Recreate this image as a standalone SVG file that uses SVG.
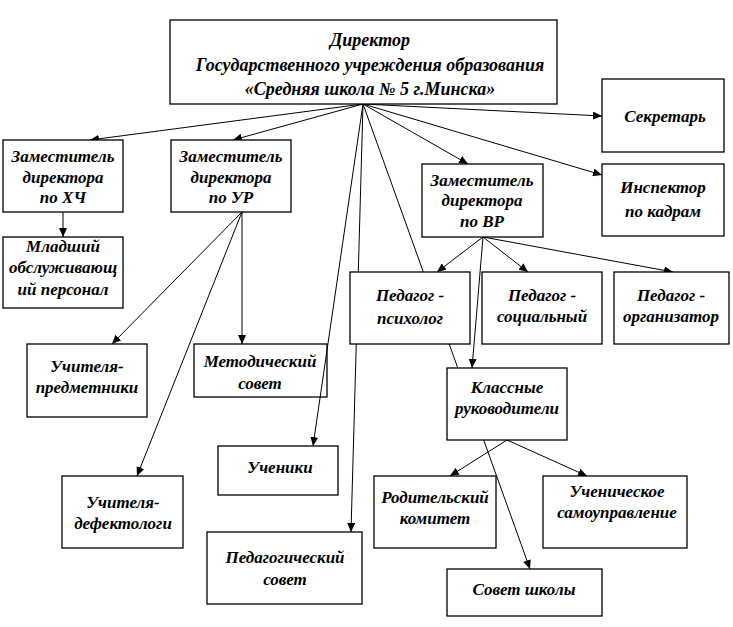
<svg xmlns="http://www.w3.org/2000/svg" width="733" height="627" viewBox="0 0 733 627">
<defs>
<marker id="ah" markerWidth="10" markerHeight="8" refX="9" refY="4" orient="auto" markerUnits="userSpaceOnUse">
<path d="M0,0 L9,4 L0,8 Z" fill="#000"/>
</marker>
<style>
.box{fill:#fff;stroke:#000;stroke-width:1.3}
.open{fill:none;stroke:#000;stroke-width:1.3}
.ln{stroke:#000;stroke-width:1;fill:none;marker-end:url(#ah)}
text{font-family:"Liberation Serif","Times New Roman",serif;font-style:italic;font-weight:bold;font-size:17px;text-anchor:middle;fill:#000}
.big{font-size:18px}
</style>
</defs>
<rect width="733" height="627" fill="#fff"/>
<g id="connectors">
<line class="ln" x1="363" y1="104" x2="90" y2="140"/>
<line class="ln" x1="363" y1="104" x2="233" y2="140"/>
<line class="ln" x1="363" y1="104" x2="602" y2="116"/>
<line class="ln" x1="363" y1="104" x2="468" y2="164"/>
<line class="ln" x1="363" y1="104" x2="602" y2="175"/>
<line class="ln" x1="363" y1="104" x2="313" y2="446"/>
<line class="ln" x1="363" y1="104" x2="351" y2="532"/>
<line class="ln" x1="363" y1="104" x2="530" y2="569"/>
<line class="ln" x1="63" y1="212" x2="63" y2="237"/>
<line class="ln" x1="242" y1="212" x2="112" y2="344"/>
<line class="ln" x1="242" y1="212" x2="242" y2="344"/>
<line class="ln" x1="242" y1="212" x2="137" y2="476"/>
<line class="ln" x1="483" y1="237" x2="437" y2="272"/>
<line class="ln" x1="483" y1="237" x2="528" y2="272"/>
<line class="ln" x1="483" y1="237" x2="673" y2="272"/>
<line class="ln" x1="483" y1="237" x2="472" y2="368"/>
<line class="ln" x1="507" y1="440" x2="450" y2="476"/>
<line class="ln" x1="507" y1="440" x2="587" y2="476"/>
</g>
<g id="director">
<rect class="box" x="170" y="20" width="387" height="84"/>
<text class="big" x="370" y="46">Директор</text>
<text class="big" x="370" y="71">Государственного учреждения образования</text>
<text class="big" x="370" y="95">«Средняя школа № 5 г.Минска»</text>
</g>
<g id="secretary">
<rect class="box" x="602" y="79" width="122" height="73"/>
<text x="665" y="122">Секретарь</text>
</g>
<g id="inspector">
<rect class="box" x="602" y="164" width="122" height="72"/>
<text x="663" y="193">Инспектор</text>
<text x="663" y="217">по кадрам</text>
</g>
<g id="deputy-hch">
<rect class="box" x="3" y="140" width="120" height="72"/>
<text x="63" y="162">Заместитель</text>
<text x="63" y="183">директора</text>
<text x="63" y="203">по ХЧ</text>
</g>
<g id="junior-staff">
<rect class="box" x="3" y="237" width="120" height="71"/>
<text x="63" y="252">Младший</text>
<text x="63" y="273">обслуживающ</text>
<text x="63" y="295">ий персонал</text>
</g>
<g id="deputy-ur">
<rect class="box" x="171" y="140" width="120" height="72"/>
<text x="231" y="162">Заместитель</text>
<text x="231" y="183">директора</text>
<text x="231" y="203">по УР</text>
</g>
<g id="deputy-vr">
<rect class="box" x="422" y="164" width="121" height="73"/>
<text x="482" y="186">Заместитель</text>
<text x="482" y="206">директора</text>
<text x="482" y="227">по ВР</text>
</g>
<g id="psychologist">
<rect class="box" x="350" y="272" width="120" height="72"/>
<text x="410" y="301">Педагог -</text>
<text x="410" y="324">психолог</text>
</g>
<g id="social">
<rect class="box" x="482" y="272" width="120" height="72"/>
<text x="542" y="301">Педагог -</text>
<text x="542" y="322">социальный</text>
</g>
<g id="organizer">
<rect class="box" x="614" y="272" width="115" height="72"/>
<text x="671" y="301">Педагог -</text>
<text x="671" y="322">организатор</text>
</g>
<g id="subject-teachers">
<rect class="box" x="27" y="344" width="120" height="73"/>
<text x="87" y="372">Учителя-</text>
<text x="87" y="393">предметники</text>
</g>
<g id="methodical-council">
<rect class="open" x="194" y="344" width="133" height="53"/>
<text x="260" y="367">Методический</text>
<text x="260" y="389">совет</text>
</g>
<g id="pupils">
<rect class="box" x="218" y="446" width="120" height="49"/>
<text x="280" y="473">Ученики</text>
</g>
<g id="defectologists">
<rect class="box" x="62" y="476" width="121" height="72"/>
<text x="123" y="508">Учителя-</text>
<text x="123" y="529">дефектологи</text>
</g>
<g id="pedagogical-council">
<rect class="box" x="207" y="532" width="155" height="72"/>
<text x="285" y="563">Педагогический</text>
<text x="285" y="585">совет</text>
</g>
<g id="class-teachers">
<rect class="box" x="447" y="368" width="120" height="72"/>
<text x="507" y="393">Классные</text>
<text x="507" y="414">руководители</text>
</g>
<g id="parents-committee">
<rect class="box" x="374" y="476" width="122" height="72"/>
<text x="435" y="503">Родительский</text>
<text x="435" y="524">комитет</text>
</g>
<g id="student-government">
<rect class="box" x="543" y="476" width="144" height="72"/>
<text x="617" y="497">Ученическое</text>
<text x="617" y="518">самоуправление</text>
</g>
<g id="school-council">
<rect class="box" x="447" y="569" width="155" height="47"/>
<text x="524" y="595">Совет школы</text>
</g>
</svg>
